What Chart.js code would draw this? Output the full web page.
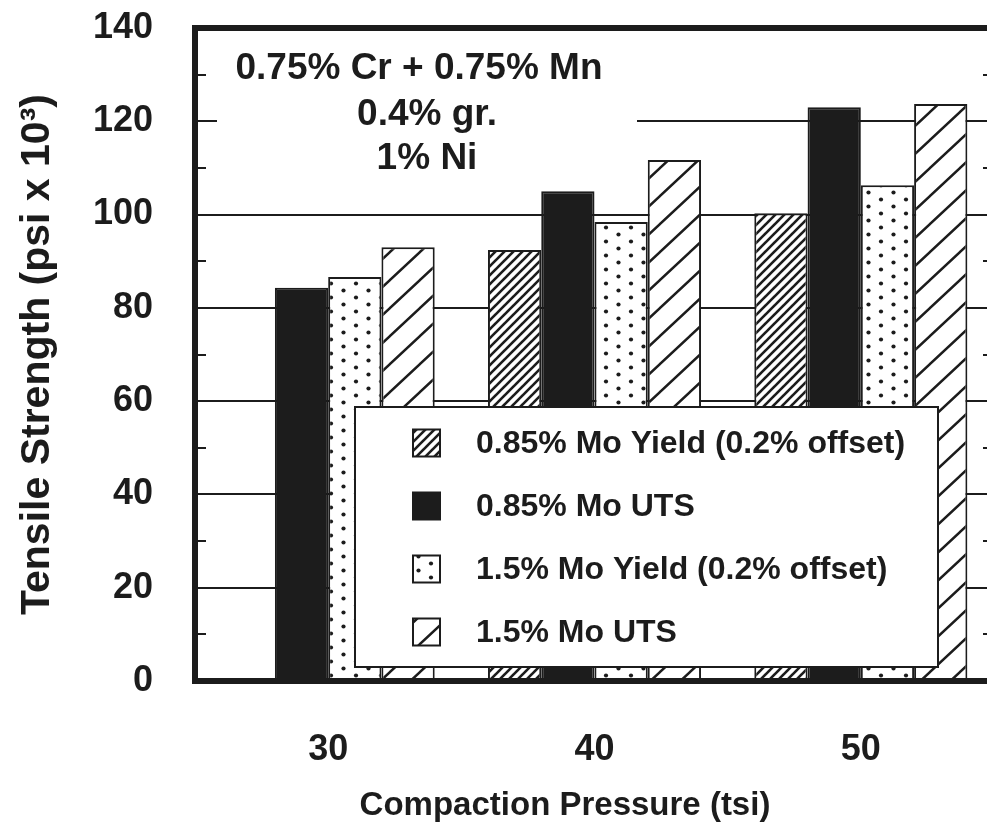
<!DOCTYPE html>
<html>
<head>
<meta charset="utf-8">
<script src="https://cdn.jsdelivr.net/npm/chart.js@4.4.1/dist/chart.umd.min.js"></script>
<style>
  html, body { margin: 0; padding: 0; background: #ffffff; overflow: hidden; }
  #wrap { position: relative; width: 1000px; height: 835px; }
</style>
</head>
<body>
<div id="wrap"><canvas id="c"></canvas></div>
<script>
// ---- data ----
const categories = ['30', '40', '50'];
const seriesLabels = [
  '0.85% Mo Yield (0.2% offset)',
  '0.85% Mo UTS',
  '1.5% Mo Yield (0.2% offset)',
  '1.5% Mo UTS'
];
const yield085 = [null, 92.4, 100.3];
const uts085   = [84.3, 105.0, 123.0];
const yield15  = [86.6, 98.4, 106.3];
const uts15    = [93.0, 111.7, 123.7];
const noteLines = ['0.75% Cr + 0.75% Mn', '0.4% gr.', '1% Ni'];
const xTitle = 'Compaction Pressure (tsi)';
const yTitle = 'Tensile Strength (psi x 10\u00B3)';
const yTicksMin = 0, yTicksMax = 140, yStep = 10, yLabelStep = 20;

const INK = '#1c1c1c';
const FONT = '"Liberation Sans", Arial, Helvetica, sans-serif';

// ---- patterns ----
function hatch(w, h, lw) {
  const c = document.createElement('canvas');
  c.width = w; c.height = h;
  const g = c.getContext('2d');
  g.fillStyle = '#fff'; g.fillRect(0, 0, w, h);
  g.strokeStyle = INK; g.lineWidth = lw; g.lineCap = 'square';
  for (const dx of [-w, 0, w]) {
    g.beginPath(); g.moveTo(dx, h); g.lineTo(dx + w, 0); g.stroke();
  }
  return g.createPattern(c, 'repeat');
}
function dots() {
  const c = document.createElement('canvas');
  c.width = 25; c.height = 14;
  const g = c.getContext('2d');
  g.fillStyle = '#fff'; g.fillRect(0, 0, 25, 14);
  g.fillStyle = INK;
  for (const [x, y] of [[6, 3.5], [18.5, 10.5]]) {
    g.beginPath(); g.arc(x, y, 2.1, 0, Math.PI * 2); g.fill();
  }
  return g.createPattern(c, 'repeat');
}
const pDense = hatch(9, 9, 2.6);
const pWide = hatch(30, 28, 2.5);
const pDots = dots();

// ---- plugins ----
const bgPlugin = {
  id: 'bg',
  beforeDraw(chart) {
    const g = chart.ctx;
    g.save(); g.fillStyle = '#fff'; g.fillRect(0, 0, chart.width, chart.height); g.restore();
  }
};

const notePlugin = {
  id: 'note',
  beforeDatasetsDraw(chart) {
    const a = chart.chartArea, g = chart.ctx;
    g.save();
    g.fillStyle = '#fff';
    g.fillRect(a.left + 22, a.top + 10, 420, 148);
    g.fillStyle = INK;
    g.font = 'bold 37px ' + FONT;
    g.textAlign = 'center'; g.textBaseline = 'middle';
    const cx = a.left + 232;
    const ys = [a.top + 41, a.top + 87, a.top + 131];
    noteLines.forEach((t, i) => g.fillText(t, cx + (i === 0 ? -8 : 0), ys[i]));
    g.restore();
  }
};

const legendPlugin = {
  id: 'customLegend',
  afterDatasetsDraw(chart) {
    const a = chart.chartArea, g = chart.ctx;
    const bx = a.left + 160, by = 407, bw = 583, bh = 260;
    g.save();
    g.fillStyle = '#fff';
    g.fillRect(bx, by, bw, bh);
    g.strokeStyle = INK; g.lineWidth = 2;
    g.strokeRect(bx, by, bw, bh);
    g.font = 'bold 32px ' + FONT;
    g.textAlign = 'left'; g.textBaseline = 'middle';
    chart.data.datasets.forEach((ds, i) => {
      const cy = by + 36 + i * 63;
      const sx = bx + 58, s = 27;
      g.fillStyle = ds.backgroundColor;
      g.fillRect(sx, cy - s / 2, s, s);
      g.strokeStyle = INK; g.lineWidth = 2;
      g.strokeRect(sx, cy - s / 2, s, s);
      g.fillStyle = INK;
      g.fillText(ds.label, sx + 63, cy + 1);
    });
    g.restore();
  }
};

const framePlugin = {
  id: 'frame',
  afterDatasetsDraw(chart) {
    const a = chart.chartArea, g = chart.ctx, y = chart.scales.y;
    g.save();
    g.strokeStyle = INK;
    g.lineWidth = 2;
    for (let v = yTicksMin + yStep; v < yTicksMax; v += yStep) {
      if (v % yLabelStep === 0) continue;
      const py = Math.round(y.getPixelForValue(v));
      g.beginPath();
      g.moveTo(a.left, py); g.lineTo(a.left + 11, py);
      g.moveTo(a.right, py); g.lineTo(a.right - 11, py);
      g.stroke();
    }
    g.lineWidth = 6;
    g.strokeRect(a.left, a.top, a.right - a.left, a.bottom - a.top);
    g.restore();
  },
  afterDraw(chart) {
    const g = chart.ctx;
    g.save();
    g.fillStyle = INK;
    g.font = 'bold 33px ' + FONT;
    g.textAlign = 'center'; g.textBaseline = 'middle';
    g.fillText(xTitle, 565, 806);
    g.restore();
  }
};

// ---- chart ----
const mk = (label, data, bg) => ({
  label, data, backgroundColor: bg, borderColor: INK, borderWidth: 2,
  categoryPercentage: 0.8, barPercentage: 1.0
});

new Chart(document.getElementById('c'), {
  type: 'bar',
  data: {
    labels: categories,
    datasets: [
      mk(seriesLabels[0], yield085, pDense),
      mk(seriesLabels[1], uts085, INK),
      mk(seriesLabels[2], yield15, pDots),
      mk(seriesLabels[3], uts15, pWide)
    ]
  },
  options: {
    responsive: true,
    maintainAspectRatio: false,
    animation: false,
    layout: { padding: { top: 28, right: 6, left: 0, bottom: 0 } },
    plugins: { legend: { display: false }, tooltip: { enabled: false } },
    scales: {
      x: {
        grid: { display: false, drawTicks: false },
        border: { display: false },
        ticks: { color: INK, font: { family: FONT, size: 36, weight: 'bold' }, padding: 47 },
        afterFit(s) { s.height = 154; }
      },
      y: {
        min: yTicksMin, max: yTicksMax,
        grid: {
          drawTicks: false, lineWidth: 2,
          color: (ctx) => {
            const v = ctx.tick ? ctx.tick.value : 0;
            return (v % yLabelStep === 0 && v > yTicksMin && v < yTicksMax) ? INK : 'rgba(0,0,0,0)';
          }
        },
        border: { display: false },
        ticks: {
          stepSize: yStep, autoSkip: false, padding: 42, color: INK,
          font: { family: FONT, size: 36, weight: 'bold' },
          callback: (v) => (v % yLabelStep === 0 ? String(v) : '')
        },
        title: {
          display: true, text: yTitle, color: INK,
          font: { family: FONT, size: 41, weight: 'bold' }, padding: { top: 13, bottom: 0 }
        },
        afterFit(s) { s.width = 195; s.paddingTop = 0; s.paddingBottom = 0; }
      }
    }
  },
  plugins: [bgPlugin, notePlugin, legendPlugin, framePlugin]
});
</script>
</body>
</html>
